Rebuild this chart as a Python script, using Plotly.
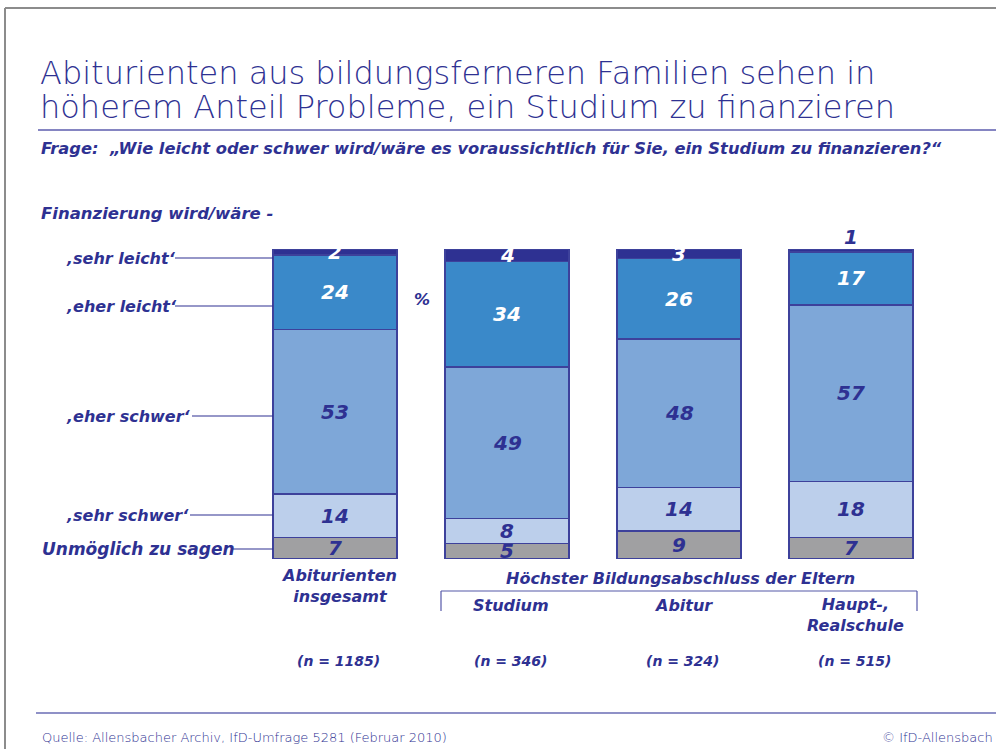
import plotly.graph_objects as go

W, H = 996, 749

categories = ["Abiturienten insgesamt", "Studium", "Abitur", "Haupt-, Realschule"]
series_names = ["Unmöglich zu sagen", "sehr schwer", "eher schwer", "eher leicht", "sehr leicht"]
unmoeglich = [7, 5, 9, 7]
sehr_schwer = [14, 8, 14, 18]
eher_schwer = [53, 49, 48, 57]
eher_leicht = [24, 34, 26, 17]
sehr_leicht = [2, 4, 3, 1]
n_values = [1185, 346, 324, 515]
cat_labels = ["Abiturienten<br>insgesamt", "Studium", "Abitur", "Haupt-,<br>Realschule"]

series = [unmoeglich, sehr_schwer, eher_schwer, eher_leicht, sehr_leicht]
colors = ["#a0a0a2", "#bccfeb", "#7ea7d8", "#3a89c9", "#2e3192"]
text_colors = ["#2e3192", "#2e3192", "#2e3192", "#ffffff", "#ffffff"]

NAVY = "#2e3192"
FONT = "DejaVu Sans"


def px(x):
    return x / W


def py(y):
    return 1 - y / H


def bi(t):
    return f"<b><i>{t}</i></b>"


fig = go.Figure()
for name, vals, col in zip(series_names, series, colors):
    fig.add_trace(go.Bar(
        x=categories, y=vals, name=name,
        marker=dict(color=col, line=dict(color="#3d419b", width=1.5)),
        hoverinfo="skip",
    ))

annotations = []
shapes = []

# values inside segments
base = [0] * len(categories)
for s_i, vals in enumerate(series):
    for c_i, v in enumerate(vals):
        if v < 2:
            annotations.append(dict(
                x=categories[c_i], y=base[c_i] + v, xref="x", yref="y",
                text=bi(v), showarrow=False, yanchor="bottom", yshift=-2,
                font=dict(family=FONT, size=20, color=NAVY)))
        else:
            annotations.append(dict(
                x=categories[c_i], y=base[c_i] + v / 2, xref="x", yref="y",
                text=bi(v), showarrow=False, yanchor="middle",
                font=dict(family=FONT, size=20, color=text_colors[s_i])))
        base[c_i] += v

# title (two lines)
title_lines = ["Abiturienten aus bildungsferneren Familien sehen in",
               "höherem Anteil Probleme, ein Studium zu finanzieren"]
for line, yy in zip(title_lines, [73, 107]):
    annotations.append(dict(
        x=px(38), y=py(yy), xref="paper", yref="paper", xanchor="left", yanchor="middle",
        text=line, showarrow=False,
        font=dict(family="DejaVu Sans", size=32, color=NAVY, weight=200)))

annotations.append(dict(
    x=px(39), y=py(148), xref="paper", yref="paper", xanchor="left", yanchor="middle",
    text=bi("Frage:  „Wie leicht oder schwer wird/wäre es voraussichtlich für Sie, ein Studium zu finanzieren?“"),
    showarrow=False, font=dict(family=FONT, size=16.3, color=NAVY)))

annotations.append(dict(
    x=px(39), y=py(213), xref="paper", yref="paper", xanchor="left", yanchor="middle",
    text=bi("Finanzierung wird/wäre -"),
    showarrow=False, font=dict(family=FONT, size=16.5, color=NAVY)))

# left side labels with leader lines (top to bottom)
left_labels = ["‚sehr leicht‘", "‚eher leicht‘", "‚eher schwer‘", "‚sehr schwer‘", "Unmöglich zu sagen"]
left_x = [64, 64, 64, 64, 40]
left_y = [258, 306, 416, 515, 549]
left_size = [16, 16, 16, 16, 17]
line_start = [175, 175, 192, 190, 232]
bar_left = 273
for lab, lx, ly, ls, sz in zip(left_labels, left_x, left_y, line_start, left_size):
    annotations.append(dict(
        x=px(lx), y=py(ly), xref="paper", yref="paper", xanchor="left", yanchor="middle",
        text=bi(lab), showarrow=False,
        font=dict(family=FONT, size=sz, color=NAVY)))
    shapes.append(dict(type="line", xref="paper", yref="paper",
                       x0=px(ls), x1=px(bar_left), y0=py(ly), y1=py(ly),
                       line=dict(color=NAVY, width=1.2)))

annotations.append(dict(
    x=px(422), y=py(300), xref="paper", yref="paper", xanchor="center", yanchor="middle",
    text=bi("%"), showarrow=False, font=dict(family=FONT, size=16, color=NAVY)))

# category labels
cat_y = [586, 605, 605, 615]
for i, lab in enumerate(cat_labels):
    annotations.append(dict(
        x=categories[i], y=py(cat_y[i]), xref="x", yref="paper", xanchor="center",
        yanchor="middle", text=bi(lab), showarrow=False,
        font=dict(family=FONT, size=16, color=NAVY), xshift=4))

annotations.append(dict(
    x=px(680), y=py(578), xref="paper", yref="paper", xanchor="center", yanchor="middle",
    text=bi("Höchster Bildungsabschluss der Eltern"), showarrow=False,
    font=dict(family=FONT, size=16, color=NAVY)))

# bracket
for x0, y0, x1, y1 in [(441, 591, 917, 591), (441, 591, 441, 611), (917, 591, 917, 611)]:
    shapes.append(dict(type="line", xref="paper", yref="paper",
                       x0=px(x0), x1=px(x1), y0=py(y0), y1=py(y1),
                       line=dict(color="#5558a8", width=1.2)))

# n labels
for i, n in enumerate(n_values):
    annotations.append(dict(
        x=categories[i], y=py(661), xref="x", yref="paper", xanchor="center", yanchor="middle",
        text=bi(f"(n = {n})"), showarrow=False, xshift=3,
        font=dict(family=FONT, size=14, color=NAVY)))

# footer
annotations.append(dict(
    x=px(40), y=py(737), xref="paper", yref="paper", xanchor="left", yanchor="middle",
    text="Quelle: Allensbacher Archiv, IfD-Umfrage 5281 (Februar 2010)", showarrow=False,
    font=dict(family=FONT, size=13, color=NAVY, weight=200)))
annotations.append(dict(
    x=px(995), y=py(737), xref="paper", yref="paper", xanchor="right", yanchor="middle",
    text="© IfD-Allensbach", showarrow=False,
    font=dict(family=FONT, size=13, color=NAVY, weight=200)))

# decorative lines: title rule, footer rule, frame
shapes.append(dict(type="line", xref="paper", yref="paper", x0=px(38), x1=1, y0=py(130), y1=py(130),
                   line=dict(color="#8585c2", width=2)))
shapes.append(dict(type="line", xref="paper", yref="paper", x0=px(36), x1=1, y0=py(713), y1=py(713),
                   line=dict(color="#6a6db5", width=1.5)))
shapes.append(dict(type="line", xref="paper", yref="paper", x0=px(5), x1=1, y0=py(8), y1=py(8),
                   line=dict(color="#8c8c8c", width=2)))
shapes.append(dict(type="line", xref="paper", yref="paper", x0=px(5), x1=px(5), y0=py(8), y1=0,
                   line=dict(color="#8c8c8c", width=2)))

bar_spacing = 172
first_center = 335
fig.update_layout(
    width=W, height=H,
    margin=dict(l=0, r=0, t=0, b=0),
    paper_bgcolor="white", plot_bgcolor="white",
    barmode="stack", bargap=1 - 124 / bar_spacing,
    showlegend=False,
    xaxis=dict(domain=[px(first_center - bar_spacing / 2), px(first_center + 3.5 * bar_spacing)],
               range=[-0.5, 3.5], visible=False, fixedrange=True),
    yaxis=dict(domain=[py(559), py(249)], range=[0, 100], visible=False, fixedrange=True),
    annotations=annotations, shapes=shapes,
)

fig.write_html("out.html", config={"displayModeBar": False},
               post_script="document.body.style.margin='0';document.body.style.overflow='hidden';")
